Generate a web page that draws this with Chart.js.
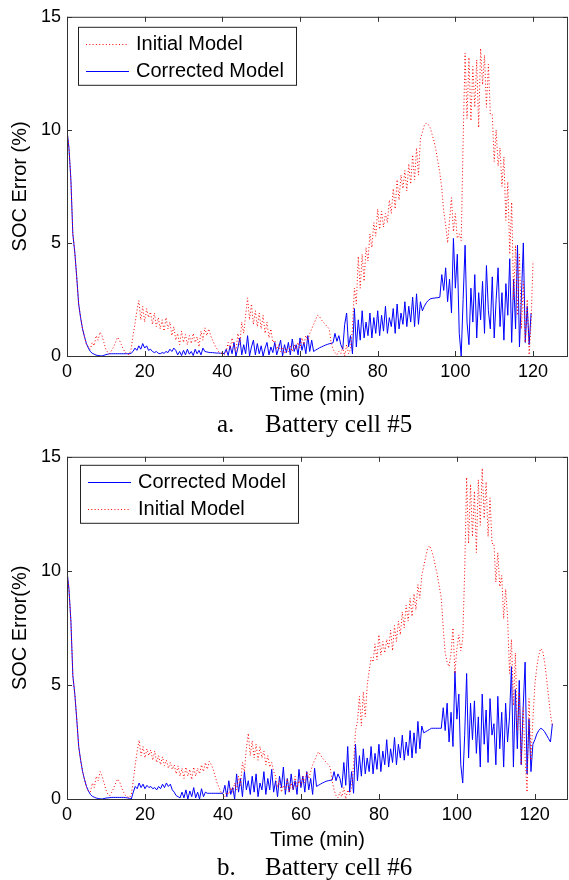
<!DOCTYPE html>
<html>
<head>
<meta charset="utf-8">
<script src="https://cdn.jsdelivr.net/npm/chart.js@4.4.1/dist/chart.umd.min.js"></script>
<style>
  body { margin: 0; background: #fff; }
  #wrap { position: relative; width: 569px; height: 880px; }
  canvas { position: absolute; left: 0; }
  .cap { position: absolute; font-family: "Liberation Serif", "Times New Roman", serif; font-size: 25px; line-height: 1; color: #000; white-space: nowrap; }
</style>
</head>
<body>
<div id="wrap">
  <canvas id="cell5" width="569" height="440" style="top:0"></canvas>
  <canvas id="cell6" width="569" height="440" style="top:440px"></canvas>
  <div class="cap" style="left:217px;top:411px">a.</div>
  <div class="cap" style="left:265px;top:411px">Battery cell #5</div>
  <div class="cap" style="left:217px;top:854px">b.</div>
  <div class="cap" style="left:265px;top:854px">Battery cell #6</div>
</div>
<script>
const STEP = 0.5; // minutes between samples
const xTicks = [0, 20, 40, 60, 80, 100, 120];
const yTicks = [0, 5, 10, 15];

// ---- Battery cell #5 (SOC error, %) ----
const initial5 = [
  10, 9.2, 7.8, 5.4, 4.6, 3.5, 2.3, 1.7, 1.2, 0.85,            // 0
  0.5, 0.4, 0.3, 0.6, 0.45, 0.9, 0.7, 1.06,                    // 5
  0.9, 0.6, 0.3, 0.15, 0.1,                                    // 9
  0.25, 0.4, 0.6, 0.83, 0.7, 0.5, 0.3, 0.15, 0.1, 0.05,        // 11.5
  0.3, 0.9, 1.4, 2.0, 2.45,                                    // 16.5
  1.6, 2.2, 1.5, 2.1, 1.7, 1.95, 1.4, 1.9, 1.3, 1.7, 1.2, 1.6, 1.1, 1.7, 1.2, // 19
  1.5, 0.9, 1.3, 0.7, 1.0, 0.5, 1.1, 0.6, 0.95, 0.5,
  0.9, 0.55, 1.0, 0.6, 0.85, 0.4, 1.1, 0.7, 1.25, 0.9,         // 26.5
  1.2, 0.9, 0.7, 0.5, 0.35, 0.2, 0.15, 0.1, 0.05, 0.2,         // 36.5
  0.6, 0.3, 0.8, 0.4, 0.2, 1.0, 0.5, 1.5,                      // 41.5
  1.0, 1.8, 2.57, 1.6,                                         // 45.5
  2.3, 1.4, 2.0, 1.3, 1.9, 1.2, 1.8, 1.0, 1.5, 0.8, 1.2, 0.6,  // 47.5
  0.7, 0.3, 0.5, 0.2, 0.4, 0.1, 0.3, 0.2, 0.45, 0.2,
  0.5, 0.3, 0.6, 0.35, 0.8, 0.5, 0.9, 0.7,                     // 53.5
  1.0, 1.2, 1.4, 1.6, 1.8, 1.75, 1.6, 1.5, 1.4, 1.3, 1.2,      // 62.5
  0.6, 0.3, 0.15, 0.05, 0.2, 0.1, 0.4, 0.0, 0.5, 0.1, 0.3, 1.2, // 68
  3.0, 2.3, 4.4, 3.0, 4.5, 3.3, 4.8,                           // 74
  4.2, 5.4, 4.8, 5.9, 5.3, 6.5, 5.6, 6.4, 5.7, 6.3,            // 77.5
  5.9, 6.9, 6.3, 7.4, 6.5, 7.8, 6.9, 8.0, 7.4, 8.2,
  7.3, 8.5, 7.6, 8.9, 7.8, 9.2, 8.0, 9.6,                      // 82.5
  9.9, 10.2, 10.3, 10.25, 10.1, 9.8, 9.5, 9.1, 8.6, 8.1,       // 91.5
  7.4, 6.4, 5.8, 5.0, 6.0, 7.0, 5.5, 6.3, 5.2, 5.4, 5.1, 9.5,  // 96.5
  13.4, 10.5, 13.2, 10.4, 12.8, 11.0, 13.1, 10.1,              // 102.5
  13.6, 12.0, 13.3, 11.0, 12.9, 10.7,                          // 106.5
  10.7, 8.6, 10.0, 8.4, 9.2, 7.5, 8.8,                         // 109.5
  6.0, 7.7, 4.5, 6.8, 2.5, 4.9, 1.8,                           // 113
  4.5, 1.2, 3.3, 0.6, 2.5, 0.05, 1.5, 4.2                      // 116.5
];
const corrected5 = [
  10, 9.2, 7.8, 5.4, 4.6, 3.5, 2.3, 1.7, 1.2, 0.85,
  0.55, 0.35, 0.2, 0.12, 0.08, 0.04, 0.02, 0.01,               // 0
  0, 0.03, 0.06, 0.08, 0.1, 0.1, 0.1, 0.1, 0.1, 0.1, 0.1, 0.1, 0.1, 0.1, 0.1, 0.12, // 9
  0.2, 0.35, 0.25, 0.45, 0.3, 0.55, 0.35, 0.45, 0.25,          // 17
  0.3, 0.2, 0.15, 0.2, 0.12, 0.1, 0.15, 0.12, 0.2, 0.15,       // 21.5
  0.3, 0.2, 0.35, 0.25,                                        // 26.5
  0.05, 0.2, 0.02, 0.25, 0.05, 0.3, 0.08, 0.2, 0.02, 0.3, 0.1, 0.25, 0.05, 0.35, // 28.5
  0.2, 0.18, 0.16, 0.15, 0.15, 0.14, 0.13, 0.13, 0.12, 0.12, 0.1, // 35.5
  0.3, 0.02, 0.45, 0.1, 0.6, 0.0, 0.35, 0.8, 0.05, 0.5,
  0.1, 0.9, 0.0, 0.4, 0.7, 0.05, 0.55, 0.1, 0.45, 0.0,
  0.35, 0.6, 0.05, 0.4, 0.15,                                  // 41
  0.6, 0.05, 0.35, 0.7, 0.0, 0.5, 0.15, 0.6, 0.05, 0.75,
  0.2, 0.5, 0.05, 0.8, 0.25, 0.6, 0.1, 0.9, 0.2, 0.7,          // 53.5
  0.2, 0.26, 0.31, 0.36, 0.4, 0.44, 0.48, 0.51, 0.54, 0.56, 0.58, // 63.5
  1.0, 0.65, 0.9, 0.5, 0.3, 1.4, 1.9, 0.4, 0.9, 0.1,           // 69
  2.1, 0.4, 1.6, 0.7, 2.0, 0.8, 1.5, 0.9, 1.9, 0.8,
  1.7, 1.0, 2.0, 0.9, 1.8, 1.1, 2.2, 1.0, 1.7, 1.3,
  2.1, 1.0, 2.3, 1.2, 1.9, 1.4, 2.4, 1.3, 2.2, 1.5,
  2.6, 1.3, 2.75, 1.4, 2.4,                                    // 74
  2.0, 2.2, 2.35, 2.45, 2.52, 2.55, 2.56, 2.57, 2.58, 2.6,     // 91.5
  3.6, 2.9, 3.9, 2.4, 3.4, 1.9,                                // 96.5
  5.2, 3.0, 4.5, 1.0, 0.0, 2.5, 4.9, 1.5, 0.5, 3.0,            // 99.5
  1.5, 3.6, 0.8, 2.8, 1.6, 3.3, 1.0, 4.0, 2.0, 1.2,
  3.5, 0.8, 2.5, 3.9, 1.3, 2.8, 0.7, 3.2, 1.8,                 // 104.5
  4.3, 0.6, 3.4, 1.2, 4.9, 0.4, 2.6, 5.0, 0.6, 2.2, 0.5, 1.9,  // 114
  null
];

// ---- Battery cell #6 (SOC error, %) ----
const corrected6 = [
  10, 9.2, 7.8, 5.4, 4.6, 3.5, 2.3, 1.7, 1.2, 0.85,
  0.55, 0.35, 0.2, 0.12, 0.08, 0.04, 0.02, 0.01,               // 0
  0, 0.02, 0.04, 0.05, 0.06, 0.07, 0.07, 0.07, 0.07, 0.07, 0.07, 0.07, 0.06, 0.05, 0.03, 0.0, // 9
  0.3, 0.55, 0.45, 0.7, 0.5, 0.65, 0.45, 0.6, 0.5, 0.55,
  0.45, 0.5, 0.4, 0.55, 0.45, 0.65, 0.5, 0.7, 0.55, 0.65, 0.4, // 17
  0.3, 0.15, 0.1, 0.05, 0.3,                                   // 27.5
  0.05, 0.4, 0.0, 0.35, 0.1, 0.5, 0.05, 0.3, 0.0, 0.45, 0.1, 0.3, // 30
  0.25, 0.25, 0.25, 0.25, 0.25, 0.25, 0.25, 0.25, 0.25,        // 36
  0.6, 0.1, 0.8, 0.2, 0.5, 0.0, 1.1, 0.3, 0.9, 0.1,
  1.2, 0.4, 0.8, 0.2, 1.0, 0.3, 1.1, 0.1, 0.7, 0.4,
  1.2, 0.2, 0.9, 0.4, 1.3, 0.3, 0.8, 0.1, 1.0, 0.5,
  1.4, 0.2, 0.9, 0.3, 1.1, 0.4, 0.8, 0.2, 1.3, 0.5,
  1.0, 0.3, 1.2, 0.4, 0.9, 0.2, 1.35,                          // 40.5
  0.55, 0.6, 0.65, 0.7, 0.74, 0.78, 0.8, 0.82, 0.83,           // 64
  1.2, 0.8, 1.1, 0.9, 0.5, 1.6, 0.6, 2.3, 0.3, 1.2, 0.25,      // 68.5
  2.4, 0.8, 1.9, 1.0, 2.2, 1.1, 1.8, 1.2, 2.3, 1.1,
  2.0, 1.3, 2.4, 1.2, 2.1, 1.5, 2.6, 1.4, 2.2, 1.6,
  2.7, 1.5, 2.4, 1.8, 2.8, 1.7, 2.5, 1.9, 3.0, 1.8,
  2.9, 2.0, 3.4, 2.2, 3.2,                                     // 74
  2.9, 2.95, 3.0, 3.05, 3.1, 3.1, 3.1, 3.1, 3.1, 3.1,          // 91.5
  4.0, 3.0, 4.2, 2.5, 3.8, 2.3,                                // 96.5
  5.6, 3.5, 4.6, 1.5, 0.7, 2.8, 5.5, 1.8, 4.2, 2.6,            // 99.5
  4.3, 2.0, 3.6, 1.4, 4.6, 2.4, 3.9, 1.6, 4.4, 2.8,
  3.3, 1.5, 4.5, 2.2, 3.8, 1.4, 4.2, 2.5, 3.6,                 // 104.5
  5.8, 1.4, 4.8, 2.2, 5.2, 1.5, 4.0, 6.0, 1.1, 3.5, 1.2, 2.4,  // 114
  2.6, 2.85, 3.0, 3.1, 3.05, 2.95, 2.8, 2.65, 2.5, 3.3         // 120
];
const initial6 = [
  10, 9.2, 7.8, 5.4, 4.6, 3.5, 2.3, 1.7, 1.2, 0.85,            // 0
  0.5, 0.35, 0.3, 0.7, 0.5, 1.0, 0.8, 1.2,                     // 5
  1.0, 0.7, 0.4, 0.2, 0.15,                                    // 9
  0.3, 0.5, 0.7, 0.88, 0.75, 0.5, 0.3, 0.15, 0.1, 0.05,        // 11.5
  0.2, 0.8, 1.5, 2.1, 2.58,                                    // 16.5
  1.9, 2.3, 1.8, 2.2, 1.9, 2.15, 1.7, 2.1, 1.6, 1.9, 1.5, 1.85, 1.45, 1.7, 1.35, // 19
  1.6, 1.3, 1.5, 1.1, 1.45, 1.0, 1.35, 0.9, 1.4, 1.0,
  1.3, 0.85, 1.4, 1.0, 1.35, 1.1, 1.5, 1.2, 1.6, 1.3,          // 26.5
  1.65, 1.5, 1.3, 1.0, 0.7, 0.5, 0.3, 0.2, 0.1, 0.3,           // 36.5
  0.2, 0.5, 0.3, 0.7, 0.4, 1.0, 0.6, 1.6,                      // 41.5
  1.2, 2.2, 2.88, 1.9,                                         // 45.5
  2.55, 1.8, 2.4, 1.7, 2.3, 1.8, 2.1, 1.5, 1.9, 1.4, 1.6, 1.2, // 47.5
  1.0, 0.5, 0.8, 0.3, 0.6, 0.4, 0.9, 0.3, 0.7, 0.4,
  1.0, 0.5, 0.8, 0.6, 1.0, 0.7, 1.2, 0.9,                      // 53.5
  1.2, 1.5, 1.7, 1.9, 2.07, 1.95, 1.8, 1.7, 1.6, 1.5, 1.4,     // 62.5
  0.8, 0.4, 0.15, 0.05, 0.3, 0.1, 0.5, 0.0, 0.4, 0.2, 0.5, 1.5, // 68
  3.0, 3.4, 4.5, 3.2, 4.7, 3.6, 5.0,                           // 74
  5.6, 6.2, 6.0, 6.8, 6.1, 7.2, 6.3, 6.9, 6.4, 7.0,            // 77.5
  6.6, 7.4, 6.5, 7.6, 6.9, 7.8, 7.2, 8.2, 7.5, 8.5,
  7.8, 8.8, 8.0, 9.0, 8.3, 9.4, 8.8, 9.8,                      // 82.5
  10.2, 10.6, 11.0, 11.1, 10.9, 10.6, 10.2, 9.8, 9.3, 8.8,     // 91.5
  7.5, 6.4, 6.0, 5.8, 6.4, 7.5, 5.5, 6.6, 7.2, 6.5, 7.0, 10.0, // 96.5
  14.1, 11.2, 13.8, 11.5, 13.5, 10.8, 14.0, 12.0,              // 102.5
  14.5, 12.3, 13.9, 11.5, 13.2, 11.2,                          // 106.5
  11.2, 9.5, 10.8, 9.3, 9.8, 7.9, 9.2,                         // 109.5
  8.0, 5.5, 7.0, 4.1, 6.4, 3.0, 4.7,                           // 113
  1.5, 4.0, 1.8, 0.3, 4.4, 1.7, 3.5, 5.0,                      // 116.5
  5.8, 6.3, 6.6, 6.5, 6.0, 5.3, 4.5, 3.7, 3.2                  // 120.5
];

Chart.defaults.font.family = '"Liberation Sans", Arial, Helvetica, sans-serif';
Chart.defaults.color = '#000';

// box round the plot, ticks pointing inwards, legend box
const framePlugin = {
  id: 'frame',
  afterDraw(chart, args, opts) {
    const ctx = chart.ctx;
    const a = chart.chartArea;
    const sx = chart.scales.x, sy = chart.scales.y;
    ctx.save();
    ctx.strokeStyle = '#333';
    ctx.lineWidth = 1;
    ctx.strokeRect(a.left + 0.5, a.top + 0.5, a.right - a.left - 1, a.bottom - a.top);
    ctx.beginPath();
    xTicks.forEach(v => {
      const px = Math.round(sx.getPixelForValue(v)) + 0.5;
      ctx.moveTo(px, a.bottom); ctx.lineTo(px, a.bottom - 5);
      ctx.moveTo(px, a.top); ctx.lineTo(px, a.top + 5);
    });
    yTicks.forEach(v => {
      const py = Math.round(sy.getPixelForValue(v)) + 0.5;
      ctx.moveTo(a.left, py); ctx.lineTo(a.left + 5, py);
      ctx.moveTo(a.right, py); ctx.lineTo(a.right - 5, py);
    });
    ctx.stroke();

    // legend
    const bx = a.left + opts.left, by = a.top + opts.top;
    ctx.fillStyle = '#fff';
    ctx.fillRect(bx, by, 218, 58);
    ctx.strokeStyle = '#222';
    ctx.strokeRect(bx + 0.5, by + 0.5, 218, 58);
    ctx.font = '20px "Liberation Sans", Arial, sans-serif';
    ctx.textBaseline = 'middle';
    chart.data.datasets.forEach((ds, i) => {
      const ry = Math.round(by + 17 + i * 27) + 0.5;
      ctx.strokeStyle = ds.borderColor;
      ctx.setLineDash(ds.borderDash || []);
      ctx.beginPath();
      ctx.moveTo(bx + 8, ry); ctx.lineTo(bx + 51, ry);
      ctx.stroke();
      ctx.setLineDash([]);
      ctx.fillStyle = '#000';
      ctx.fillText(ds.label, bx + 58, ry);
    });
    ctx.restore();
  }
};

function series(label, values, color, dash) {
  return {
    label: label,
    data: values.map((v, i) => ({ x: i * STEP, y: v })),
    borderColor: color,
    borderWidth: 1,
    borderDash: dash,
    pointRadius: 0,
    tension: 0,
    fill: false,
    order: dash.length ? 0 : 1
  };
}

function makeChart(id, datasets, xMax, yTitle, topPad, xHeight, titlePad, legendPos) {
  return new Chart(document.getElementById(id), {
    type: 'line',
    data: { datasets: datasets },
    options: {
      responsive: false,
      animation: false,
      devicePixelRatio: 1,
      layout: { padding: { top: topPad, right: 1, left: 0, bottom: 0 } },
      plugins: {
        legend: { display: false },
        tooltip: { enabled: false },
        frame: legendPos
      },
      scales: {
        x: {
          type: 'linear', min: 0, max: xMax,
          afterBuildTicks: s => { s.ticks = xTicks.map(v => ({ value: v })); },
          afterFit: s => { s.height = xHeight; },
          grid: { display: false, drawTicks: false },
          border: { display: false },
          ticks: { padding: 5, font: { size: 18 }, maxRotation: 0 },
          title: { display: true, text: 'Time (min)', font: { size: 20 }, padding: { top: 0, bottom: titlePad } }
        },
        y: {
          type: 'linear', min: 0, max: 15,
          afterBuildTicks: s => { s.ticks = yTicks.map(v => ({ value: v })); },
          afterFit: s => { s.width = 67; },
          grid: { display: false, drawTicks: false },
          border: { display: false },
          ticks: { padding: 6, font: { size: 18 } },
          title: { display: true, text: yTitle, font: { size: 20 }, padding: { top: 8, bottom: 0 } }
        }
      }
    },
    plugins: [framePlugin]
  });
}

makeChart('cell5', [
  series('Initial Model', initial5, '#ff0000', [1, 2.3]),
  series('Corrected Model', corrected5, '#0000ff', [])
], 129, 'SOC Error (%)', 13, 84, 33, { left: 11, top: 10 });

makeChart('cell6', [
  series('Corrected Model', corrected6, '#0000ff', []),
  series('Initial Model', initial6, '#ff0000', [1, 2.3])
], 128.5, 'SOC Error(%)', 16, 81, 28, { left: 13, top: 8 });
</script>
</body>
</html>
